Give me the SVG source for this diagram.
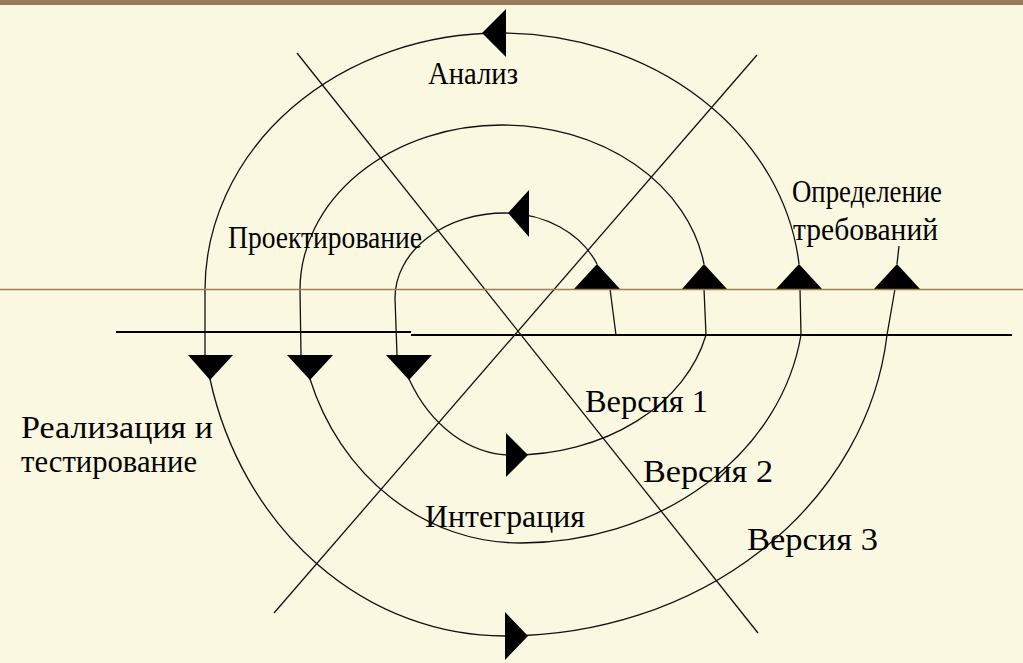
<svg xmlns="http://www.w3.org/2000/svg" width="1023" height="663" viewBox="0 0 1023 663">
<style>
.bg{fill:#FAF8E1}
.bar{fill:#9A7A5C}
.rule{stroke:#9E7D5E;stroke-width:1.6;fill:none}
.axis{stroke:#000;stroke-width:2;fill:none}
.ln{stroke:#111;stroke-width:1.3;fill:none}
.ar{fill:#000}
.t{font-family:"Liberation Serif","Times New Roman",serif;font-size:32px;fill:#000}
</style>
<rect class="bg" x="0" y="0" width="1023" height="663"/>
<rect class="bar" x="0" y="0" width="1023" height="5"/>
<g id="connectors">
  <line class="axis" x1="116" y1="332" x2="411" y2="332"/>
  <line class="axis" x1="411" y1="335" x2="1012" y2="335"/>
  <line class="ln" x1="297" y1="53" x2="758" y2="633"/>
  <line class="ln" x1="757" y1="55" x2="274" y2="613"/>
  <path class="ln" d="M616,335 L610,289"/>
  <path class="ln" d="M597,264 A101,85 0 0 0 505,213 A110,85 0 0 0 395,298 L397,355"/>
  <path class="ln" d="M409,379 A120,155 0 0 0 513,455 A198,155 0 0 0 706,335 L704,289"/>
  <path class="ln" d="M704,264 A204,165 0 0 0 502,125 A202,165 0 0 0 300,290 L301,355"/>
  <path class="ln" d="M310,379 A222,243 0 0 0 520,543 A283,243 0 0 0 801,335 L800,289"/>
  <path class="ln" d="M799,264 A300,257 0 0 0 500,33 A295,257 0 0 0 205,290 L205,355"/>
  <path class="ln" d="M210,379 A303,336 0 0 0 505,636 A384,336 0 0 0 887,335 L895,289"/>
  <path class="ln" d="M897,264 L899,246"/>
  <polygon class="ar" points="482,33 506,9 506,57"/>
  <polygon class="ar" points="508,213 529,190 529,237"/>
  <polygon class="ar" points="528,455 506,433 506,477"/>
  <polygon class="ar" points="528,636 505,612 505,660"/>
  <polygon class="ar" points="188,355 233,355 210,380"/>
  <polygon class="ar" points="287,355 333,355 310,380"/>
  <polygon class="ar" points="386,355 432,355 409,380"/>
  <polygon class="ar" points="574,289 620,289 597,264"/>
  <polygon class="ar" points="682,289 727,289 704,264"/>
  <polygon class="ar" points="776,289 822,289 799,264"/>
  <polygon class="ar" points="874,289 920,289 897,264"/>
</g>
<line class="rule" x1="0" y1="289.5" x2="1023" y2="289.5"/>
<g id="analiz"><text class="t" x="428" y="84" textLength="90" lengthAdjust="spacingAndGlyphs">Анализ</text></g>
<g id="proekt"><text class="t" x="228" y="248" textLength="194" lengthAdjust="spacingAndGlyphs">Проектирование</text></g>
<g id="opred"><text class="t" x="792" y="202" textLength="150" lengthAdjust="spacingAndGlyphs">Определение</text><text class="t" x="793" y="240" textLength="145" lengthAdjust="spacingAndGlyphs">требований</text></g>
<g id="realiz"><text class="t" x="21" y="438" textLength="192" lengthAdjust="spacingAndGlyphs">Реализация и</text><text class="t" x="21" y="472" textLength="176" lengthAdjust="spacingAndGlyphs">тестирование</text></g>
<g id="integr"><text class="t" x="425" y="527" textLength="160" lengthAdjust="spacingAndGlyphs">Интеграция</text></g>
<g id="v1"><text class="t" x="585" y="412" textLength="123" lengthAdjust="spacingAndGlyphs">Версия 1</text></g>
<g id="v2"><text class="t" x="643" y="482" textLength="130" lengthAdjust="spacingAndGlyphs">Версия 2</text></g>
<g id="v3"><text class="t" x="747" y="550" textLength="131" lengthAdjust="spacingAndGlyphs">Версия 3</text></g>
</svg>
